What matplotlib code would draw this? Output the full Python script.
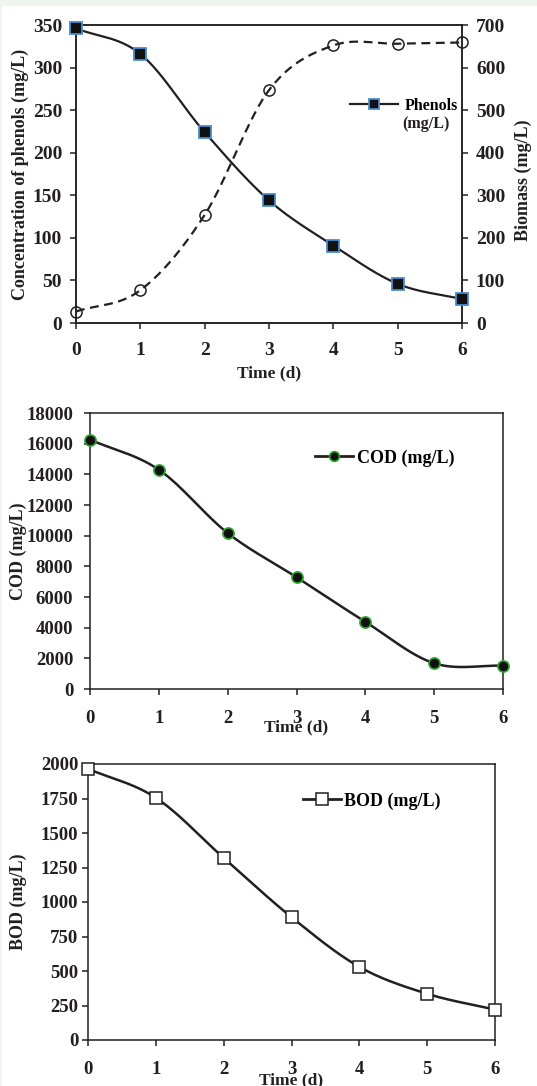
import matplotlib
matplotlib.use("Agg")
import matplotlib.pyplot as plt
from matplotlib.patches import Rectangle
import numpy as np

# data
days = [0, 1, 2, 3, 4, 5, 6]
phenols = [346, 316, 224, 144, 91, 46, 28]
biomass = [27, 77, 254, 547, 652, 656, 659]
cod = [16260, 14300, 10170, 7290, 4380, 1680, 1520]
bod = [1965, 1755, 1320, 890, 530, 335, 220]

ink = '#231f20'
plt.rcParams['font.family'] = ['Liberation Serif', 'DejaVu Serif']
plt.rcParams['font.weight'] = 'bold'
plt.rcParams['axes.labelweight'] = 'bold'


def smooth(x, y, n=30):
    # excel-like smoothed line (catmull-rom through the points)
    x = np.asarray(x, float)
    y = np.asarray(y, float)
    px = np.concatenate([[2 * x[0] - x[1]], x, [2 * x[-1] - x[-2]]])
    py = np.concatenate([[2 * y[0] - y[1]], y, [2 * y[-1] - y[-2]]])
    xs, ys = [], []
    for i in range(1, len(px) - 2):
        t = np.linspace(0, 1, n, endpoint=False)
        for p, out in ((px, xs), (py, ys)):
            p0, p1, p2, p3 = p[i - 1], p[i], p[i + 1], p[i + 2]
            out.extend(0.5 * (2 * p1 + (-p0 + p2) * t
                              + (2 * p0 - 5 * p1 + 4 * p2 - p3) * t ** 2
                              + (-p0 + 3 * p1 - 3 * p2 + p3) * t ** 3))
    xs.append(x[-1])
    ys.append(y[-1])
    return np.array(xs), np.array(ys)


def style(ax, fs):
    ax.patch.set_alpha(0)
    for s in ax.spines.values():
        s.set_linewidth(1.1)
        s.set_color(ink)
    ax.tick_params(direction='out', length=4, width=1.1, color=ink,
                   labelsize=fs, labelcolor=ink)
    ax.set_xlim(0, 6)
    ax.set_xticks(days)


W, H = 537, 1086
fig = plt.figure(figsize=(W / 100, H / 100), dpi=100)
fig.patch.set_facecolor('#eff6f2')
fig.patches.append(Rectangle((2 / W, 0), 1, 1 - 6 / H, transform=fig.transFigure,
                             facecolor='white', edgecolor='none', zorder=-5))


def box(l, t, r, b):
    return [l / W, 1 - b / H, (r - l) / W, (b - t) / H]


# panel 1: phenols (left) + biomass (right)
ax1 = fig.add_axes(box(76, 25, 462, 323))
style(ax1, 14)
ax1.set_ylim(0, 350)
ax1.set_yticks(range(0, 351, 50))
ax1.tick_params(axis='x', pad=10)
ax1.tick_params(axis='y', pad=6)
ax1.set_xlabel('Time (d)', fontsize=12.5, va='center', color=ink)
ax1.xaxis.set_label_coords(0.5, -0.168)
ax1.set_ylabel('Concentration of phenols (mg/L)', fontsize=13, va='center', color=ink)
ax1.yaxis.set_label_coords(-0.145, 0.5)

ax1r = ax1.twinx()
style(ax1r, 14)
ax1r.set_ylim(0, 700)
ax1r.set_yticks(range(0, 701, 100))
ax1r.tick_params(axis='y', pad=6)
bx, by = smooth(days, biomass)
ax1r.plot(bx, by, color=ink, lw=1.6, ls=(0, (4, 2.5)), zorder=3)
ax1r.plot(days, biomass, ls='none', marker='o', ms=8, mfc='none',
          mec=ink, mew=1.1, zorder=4, clip_on=False)
ax1r.set_ylabel('Biomass (mg/L)', fontsize=13, va='center', rotation=90, color=ink)
ax1r.yaxis.set_label_coords(1.158, 0.48)

# keep phenols above the biomass line
ax1.set_zorder(ax1r.get_zorder() + 1)
sx, sy = smooth(days, phenols)
ax1.plot(sx, sy, color=ink, lw=1.6, zorder=5)
ax1.plot(days, phenols, ls='none', marker='s', ms=8, mfc='#111111',
         mec='#4a8bd0', mew=1.3, zorder=6, clip_on=False)
ax1.plot([], [], color=ink, lw=1.6, marker='s', ms=7, mfc='#111111',
         mec='#4a8bd0', mew=1.3, label='Phenols')
ax1.legend(loc='center left', bbox_to_anchor=(0.71, 0.728), frameon=False,
           fontsize=11.5, handlelength=3, handletextpad=0.4, borderpad=0,
           borderaxespad=0)
ax1.text(0.846, 0.668, '(mg/L)', transform=ax1.transAxes, fontsize=11.5,
         va='center', ha='left', color=ink)

# panel 2: COD
ax2 = fig.add_axes(box(90, 413, 503, 689))
style(ax2, 13.5)
ax2.set_ylim(0, 18000)
ax2.set_yticks(range(0, 18001, 2000))
ax2.tick_params(axis='x', pad=11)
ax2.tick_params(axis='y', pad=8)
cx, cy = smooth(days, cod)
ax2.plot(cx, cy, color=ink, lw=1.8, zorder=3)
ax2.plot(days, cod, ls='none', marker='o', ms=8, mfc='#111111',
         mec='#2aa52a', mew=1.2, zorder=4, clip_on=False)
ax2.plot([], [], color=ink, lw=2, marker='o', ms=7, mfc='#111111',
         mec='#2aa52a', mew=1.2, label='COD (mg/L)')
ax2.legend(loc='center left', bbox_to_anchor=(0.545, 0.837), frameon=False,
           fontsize=13, handlelength=2.1, handletextpad=0.2, borderpad=0,
           borderaxespad=0)
ax2.set_xlabel('Time (d)', fontsize=12.5, va='center', color=ink)
ax2.xaxis.set_label_coords(0.5, -0.138)
ax2.set_ylabel('COD (mg/L)', fontsize=13, va='center', color=ink)
ax2.yaxis.set_label_coords(-0.174, 0.5)

# panel 3: BOD
ax3 = fig.add_axes(box(88, 764, 495, 1040))
style(ax3, 13.5)
ax3.set_ylim(0, 2000)
ax3.set_yticks(range(0, 2001, 250))
ax3.tick_params(axis='x', pad=11)
ax3.tick_params(axis='y', pad=3)
dx, dy = smooth(days, bod)
ax3.plot(dx, dy, color=ink, lw=1.8, zorder=3)
ax3.plot(days, bod, ls='none', marker='s', ms=8, mfc='white',
         mec=ink, mew=1.1, zorder=4, clip_on=False)
ax3.plot([], [], color=ink, lw=2, marker='s', ms=8, mfc='white',
         mec=ink, mew=1.1, label='BOD (mg/L)')
ax3.legend(loc='center left', bbox_to_anchor=(0.528, 0.866), frameon=False,
           fontsize=13, handlelength=2.1, handletextpad=0.2, borderpad=0,
           borderaxespad=0)
ax3.set_xlabel('Time (d)', fontsize=12.5, va='center', color=ink)
ax3.xaxis.set_label_coords(0.5, -0.145)
ax3.set_ylabel('BOD (mg/L)', fontsize=13, va='center', color=ink)
ax3.yaxis.set_label_coords(-0.17, 0.5)

fig.savefig('out.png', dpi=100, facecolor=fig.get_facecolor())
